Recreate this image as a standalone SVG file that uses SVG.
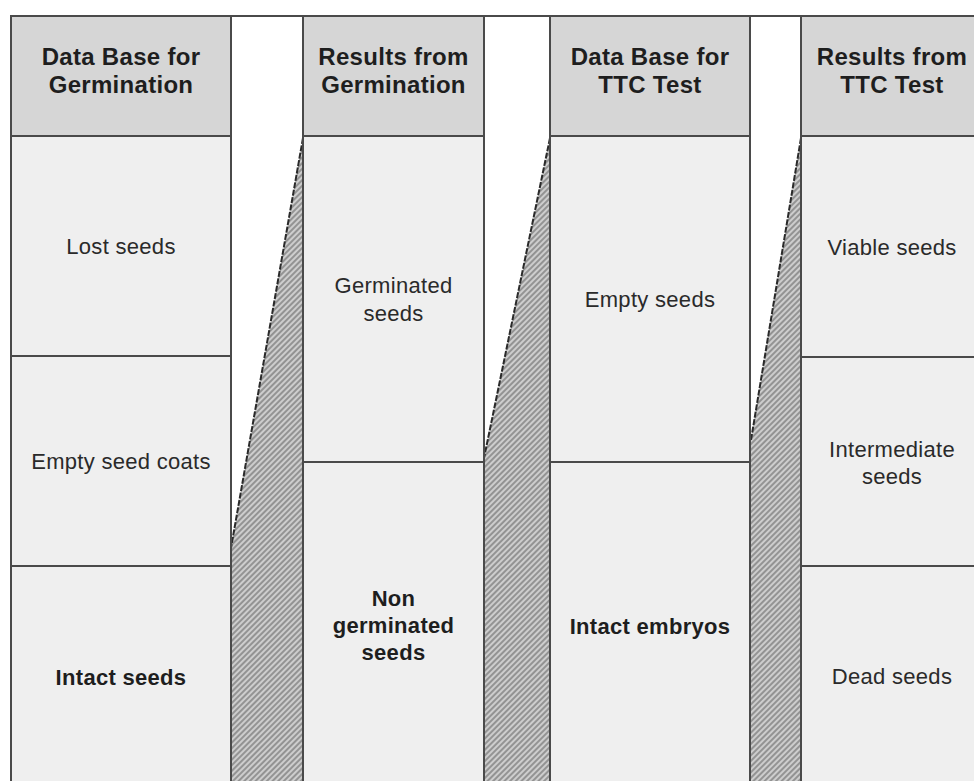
<svg xmlns="http://www.w3.org/2000/svg" width="974" height="781" viewBox="0 0 974 781">
<defs>
<pattern id="hatch" patternUnits="userSpaceOnUse" width="4" height="4" patternTransform="rotate(45)">
<rect width="4" height="4" fill="#cdcdcd"/>
<line x1="1" y1="0" x2="1" y2="4" stroke="#7a7a7a" stroke-width="1.4"/>
</pattern>
</defs>
<style>
.hdr{fill:#d6d6d6;stroke:#4a4a4a;stroke-width:2}
.cell{fill:#efefef;stroke:#4a4a4a;stroke-width:2}
.gap{fill:#ffffff;stroke:#4a4a4a;stroke-width:2}
.ht{font-family:"Liberation Sans",Arial,sans-serif;font-weight:bold;font-size:24px;fill:#1e1e1e;text-anchor:middle;letter-spacing:0.3px}
.bt{font-family:"Liberation Sans",Arial,sans-serif;font-size:22px;fill:#2a2a2a;text-anchor:middle;letter-spacing:0.3px}
.bb{font-family:"Liberation Sans",Arial,sans-serif;font-weight:bold;font-size:22px;fill:#1e1e1e;text-anchor:middle;letter-spacing:0.3px}
.tri{fill:url(#hatch);stroke:none}
.edge{fill:none;stroke:#2a2a2a;stroke-width:2;stroke-dasharray:6 1.5}
.side{fill:none;stroke:#3a3a3a;stroke-width:2}
</style>
<rect width="974" height="781" fill="#ffffff"/>
<g id="gaps">
<rect class="gap" x="231" y="16" width="72" height="775"/>
<rect class="gap" x="484" y="16" width="66" height="775"/>
<rect class="gap" x="750" y="16" width="51" height="775"/>
</g>
<g id="connectors">
<polygon class="tri" points="303,138 231,548 231,781 303,781"/>
<line class="edge" x1="303" y1="138" x2="231" y2="548"/>
<polygon class="tri" points="550,138 484,458 484,781 550,781"/>
<line class="edge" x1="550" y1="138" x2="484" y2="458"/>
<polygon class="tri" points="801,138 751,440 751,781 801,781"/>
<line class="edge" x1="801" y1="138" x2="751" y2="440"/>
<line class="side" x1="231" y1="16" x2="231" y2="781"/>
<line class="side" x1="303" y1="16" x2="303" y2="781"/>
<line class="side" x1="484" y1="16" x2="484" y2="781"/>
<line class="side" x1="550" y1="16" x2="550" y2="781"/>
<line class="side" x1="750" y1="16" x2="750" y2="781"/>
<line class="side" x1="801" y1="16" x2="801" y2="781"/>
</g>
<g id="col1-header"><rect class="hdr" x="11" y="16" width="220" height="120"/><text class="ht" x="121" y="65">Data Base for</text><text class="ht" x="121" y="93">Germination</text></g>
<g id="lost-seeds"><rect class="cell" x="11" y="136" width="220" height="220"/><text class="bt" x="121" y="254">Lost seeds</text></g>
<g id="empty-seed-coats"><rect class="cell" x="11" y="356" width="220" height="210"/><text class="bt" x="121" y="469">Empty seed coats</text></g>
<g id="intact-seeds"><rect class="cell" x="11" y="566" width="220" height="225"/><text class="bb" x="121" y="685">Intact seeds</text></g>

<g id="col2-header"><rect class="hdr" x="303" y="16" width="181" height="120"/><text class="ht" x="393.5" y="65">Results from</text><text class="ht" x="393.5" y="93">Germination</text></g>
<g id="germinated-seeds"><rect class="cell" x="303" y="136" width="181" height="326"/><text class="bt" x="393.5" y="293">Germinated</text><text class="bt" x="393.5" y="321">seeds</text></g>
<g id="non-germinated-seeds"><rect class="cell" x="303" y="462" width="181" height="329"/><text class="bb" x="393.5" y="606">Non</text><text class="bb" x="393.5" y="633">germinated</text><text class="bb" x="393.5" y="660">seeds</text></g>

<g id="col3-header"><rect class="hdr" x="550" y="16" width="200" height="120"/><text class="ht" x="650" y="65">Data Base for</text><text class="ht" x="650" y="93">TTC Test</text></g>
<g id="empty-seeds"><rect class="cell" x="550" y="136" width="200" height="326"/><text class="bt" x="650" y="307">Empty seeds</text></g>
<g id="intact-embryos"><rect class="cell" x="550" y="462" width="200" height="329"/><text class="bb" x="650" y="634">Intact embryos</text></g>

<g id="col4-header"><rect class="hdr" x="801" y="16" width="190" height="120"/><text class="ht" x="892" y="65">Results from</text><text class="ht" x="892" y="93">TTC Test</text></g>
<g id="viable-seeds"><rect class="cell" x="801" y="136" width="190" height="221"/><text class="bt" x="892" y="255">Viable seeds</text></g>
<g id="intermediate-seeds"><rect class="cell" x="801" y="357" width="190" height="209"/><text class="bt" x="892" y="457">Intermediate</text><text class="bt" x="892" y="484">seeds</text></g>
<g id="dead-seeds"><rect class="cell" x="801" y="566" width="190" height="225"/><text class="bt" x="892" y="684">Dead seeds</text></g>
</svg>
